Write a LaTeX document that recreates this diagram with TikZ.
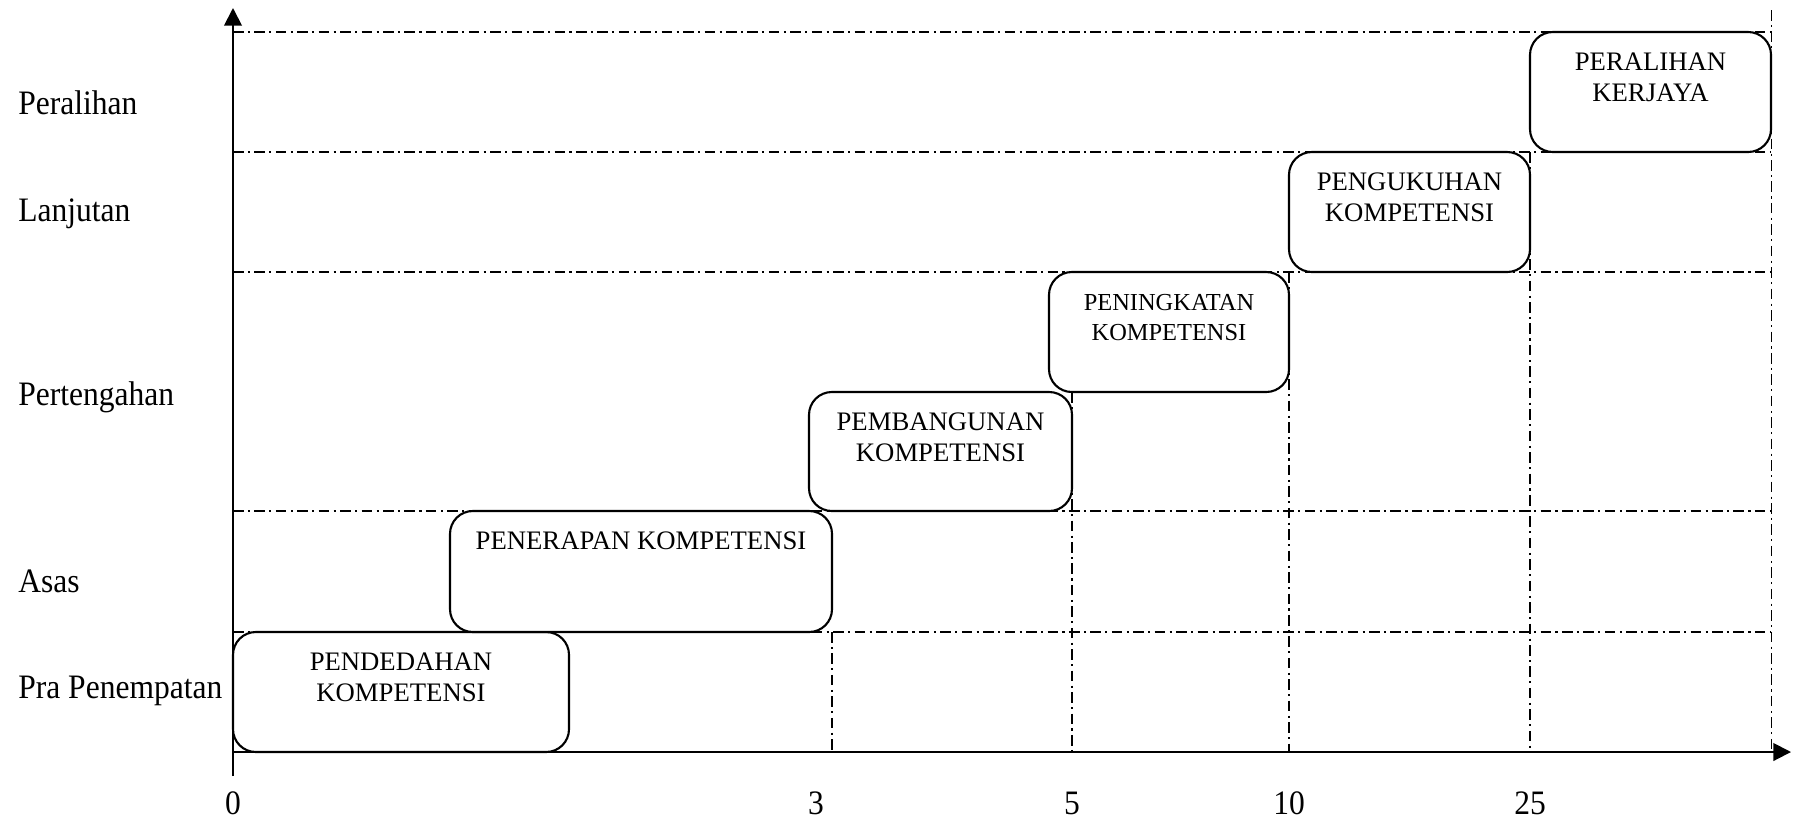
\documentclass[tikz,border=0pt]{standalone}
\usepackage{fontspec}
\setmainfont{Liberation Serif}
\newfontfamily\lblfont[FakeStretch=0.92]{Liberation Serif}
\usetikzlibrary{fit,positioning,arrows.meta}

\begin{document}
\begin{tikzpicture}[x=0.02cm,y=-0.02cm,
  stage/.style={draw=black,fill=white,line width=1.2pt,rounded corners=13pt,inner sep=0pt},
  stagetext/.style={align=center,inner sep=0pt,font=\fontsize{15.2}{17.6}\selectfont},
  levellabel/.style={anchor=west,inner sep=0pt,font=\lblfont\fontsize{19.5}{23}\selectfont},
  yearlabel/.style={inner sep=0pt,font=\lblfont\fontsize{19.5}{23}\selectfont},
  gridline/.style={line width=0.6pt,dash pattern=on 6pt off 2.5pt on 1.2pt off 2.5pt},
  axisline/.style={line width=1.1pt,-{Triangle[length=10pt,width=10pt]}}]
\useasboundingbox (0,0) rectangle (1794,819);

% grid
\draw[gridline] (233,32)--(1771,32);
\draw[gridline] (233,152)--(1771,152);
\draw[gridline] (233,272)--(1771,272);
\draw[gridline] (233,511)--(1771,511);
\draw[gridline] (233,632)--(1771,632);
\draw[gridline] (1771,10)--(1771,752);
\draw[gridline] (1530,152)--(1530,752);
\draw[gridline] (1289,272)--(1289,752);
\draw[gridline] (1072,392)--(1072,752);
\draw[gridline] (832,632)--(832,752);

% stages
\node[stage,fit={(233,632) (569,752)}](s1) {};
\node[stage,fit={(450,511) (832,632)}](s2) {};
\node[stage,fit={(809,392) (1072,511)}](s3) {};
\node[stage,fit={(1049,272) (1289,392)}](s4) {};
\node[stage,fit={(1289,152) (1530,272)}](s5) {};
\node[stage,fit={(1530,32) (1771,152)}](s6) {};

\node[stagetext,below=12.5pt of s1.north](t1) {PENDEDAHAN\\KOMPETENSI};
\node[stagetext,below=12.5pt of s2.north](t2) {PENERAPAN KOMPETENSI};
\node[stagetext,below=12.5pt of s3.north](t3) {PEMBANGUNAN\\KOMPETENSI};
\node[stagetext,below=13pt of s4.north,font=\fontsize{13.9}{17}\selectfont](t4) {PENINGKATAN\\KOMPETENSI};
\node[stagetext,below=12.5pt of s5.north](t5) {PENGUKUHAN\\KOMPETENSI};
\node[stagetext,below=12.5pt of s6.north](t6) {PERALIHAN\\KERJAYA};

% axes
\coordinate(o) at (233,752);
\coordinate(ytop) at (233,8);
\coordinate(ybot) at (233,776);
\coordinate(xend) at (1791,752);
\draw[axisline] (ybot)--(ytop);
\draw[axisline] (o)--(xend);

% levels
\node[levellabel](l1) at (18,103) {Peralihan};
\node[levellabel](l2) at (18,214) {Lanjutan};
\node[levellabel](l3) at (18,397) {Pertengahan};
\node[levellabel](l4) at (18,581) {Asas};
\node[levellabel](l5) at (18,691) {Pra Penempatan};

% years
\node[yearlabel](y0) at (233,803) {0};
\node[yearlabel](y3) at (816,803) {3};
\node[yearlabel](y5) at (1072,803) {5};
\node[yearlabel](y10) at (1289,803) {10};
\node[yearlabel](y25) at (1530,803) {25};

\end{tikzpicture}
\end{document}
